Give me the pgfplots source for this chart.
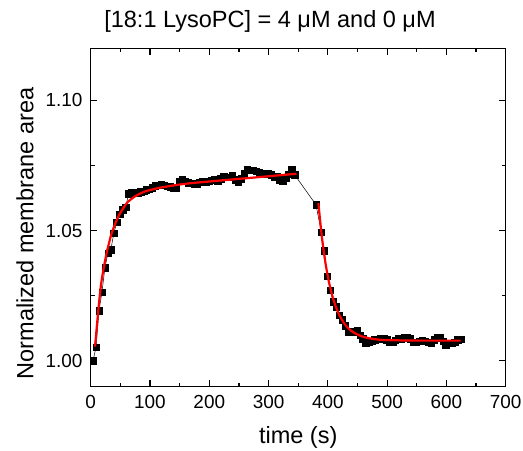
\documentclass[border=0pt]{standalone}
\usepackage{fontspec}
\setmainfont{Liberation Sans}
\usepackage{pgfplots}
\pgfplotsset{compat=1.18}
\begin{document}
\begin{tikzpicture}
\begin{axis}[
  scale only axis,
  width=415bp, height=338.4bp,
  xmin=0, xmax=700, ymin=0.99, ymax=1.12,
  xtick={0,100,...,700},
  ytick={1.00,1.05,1.10},
  minor x tick num=1, minor y tick num=1,
  tick align=inside,
  tick pos=both,
  major tick length=6.5bp, minor tick length=4bp,
  axis line style={line width=1.5bp},
  every tick/.style={black, line width=1.2bp},
  /pgf/number format/assume math mode=true,
  yticklabel style={/pgf/number format/fixed, /pgf/number format/fixed zerofill, /pgf/number format/precision=2},
  ticklabel style={font=\fontsize{19}{22}\selectfont},
  xticklabel style={anchor=base, inner sep=0pt, yshift=-21.6bp},
  yticklabel style={anchor=east, inner sep=0pt, xshift=-8bp},
  xlabel={time (s)},
  ylabel={Normalized membrane area},
  label style={font=\fontsize{23.6}{28}\selectfont},
  xlabel style={at={(axis description cs:0.5,-0.1664)}, anchor=base, inner sep=0pt},
  ylabel style={at={(axis description cs:-0.1383,0.453)}, anchor=base, inner sep=0pt},
  title={[18:1 LysoPC] = 4 μM and 0 μM},
  title style={at={(axis description cs:0.432,1.0443)}, anchor=base, inner sep=0pt, font=\fontsize{23.6}{28}\selectfont},
  clip mode=individual,
]
\addplot[black, line width=0.5bp, mark=square*, mark size=3.2bp, mark options={solid, fill=black, line width=0.3bp}] coordinates {
(4,1.0000) (9,1.0052) (14,1.0192) (19,1.0263) (24,1.0357) (29,1.0413) (34,1.0426) (39,1.0490)
(44,1.0531) (49,1.0564) (54,1.0580) (59,1.0590) (64,1.0641) (69,1.0646) (74,1.0643) (79,1.0645)
(84,1.0650) (89,1.0652) (94,1.0657) (99,1.0660) (104,1.0665) (109,1.0672) (114,1.0674) (119,1.0676)
(124,1.0675) (129,1.0670) (134,1.0668) (139,1.0665) (144,1.0663) (149,1.0690) (154,1.0695) (159,1.0690)
(164,1.0684) (169,1.0682) (174,1.0680) (179,1.0680) (184,1.0686) (189,1.0688) (194,1.0686) (199,1.0690)
(204,1.0694) (209,1.0698) (214,1.0692) (219,1.0700) (224,1.0708) (229,1.0706) (234,1.0704) (239,1.0710)
(244,1.0695) (249,1.0685) (254,1.0700) (259,1.0720) (264,1.0736) (269,1.0733) (274,1.0731) (279,1.0728)
(284,1.0724) (289,1.0721) (294,1.0716) (299,1.0718) (304,1.0714) (309,1.0705) (314,1.0708) (319,1.0695)
(324,1.0690) (329,1.0702) (334,1.0716) (339,1.0734) (344,1.0714)
(380,1.0599) (389,1.0494) (394,1.0422) (399,1.0325) (404,1.0272) (409,1.0227) (414,1.0208) (419,1.0176)
(424,1.0157) (429,1.0135) (434,1.0112) (439,1.0110) (444,1.0112) (449,1.0118) (454,1.0099) (459,1.0085)
(464,1.0067) (469,1.0072) (474,1.0075) (479,1.0080) (484,1.0082) (489,1.0084) (494,1.0086) (499,1.0080)
(504,1.0072) (509,1.0070) (514,1.0078) (519,1.0086) (524,1.0085) (529,1.0088) (534,1.0090) (539,1.0085)
(544,1.0072) (549,1.0070) (554,1.0075) (559,1.0077) (564,1.0075) (569,1.0072) (574,1.0069) (579,1.0080)
(584,1.0088) (589,1.0090) (594,1.0075) (599,1.0062) (604,1.0068) (609,1.0067) (614,1.0072) (619,1.0080)
(624,1.0082)
};
\addplot[red, line width=2.2bp, smooth, tension=0.4, no marks] coordinates {
(7.3,1.0054) (12.9,1.0195) (17.4,1.0292) (22.4,1.0362) (27.5,1.0420) (35.4,1.0490) (46.6,1.0554)
(60.7,1.0605) (74.7,1.0631) (91.6,1.0650) (114,1.0663) (142,1.0674) (170,1.0682) (258,1.0700) (347,1.0718)
};
\addplot[red, line width=2.2bp, smooth, tension=0.4, no marks] coordinates {
(384,1.0605) (390,1.0474) (396,1.0375) (402,1.0301) (408,1.0245) (414,1.0204) (420,1.0172)
(428,1.0142) (436,1.0121) (446,1.0105) (458,1.0093) (472,1.0085) (490,1.0080) (520,1.0078)
(560,1.0077) (624,1.0077)
};
\end{axis}
\pgfresetboundingbox
\path[use as bounding box] (-90.7bp,-64.3bp) rectangle (432.3bp,386.7bp);
\end{tikzpicture}
\end{document}
